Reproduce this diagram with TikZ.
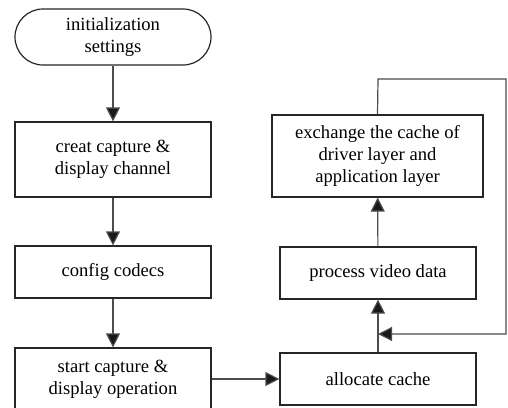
\documentclass[tikz,border=0pt]{standalone}
\usepackage{fontspec}
\setmainfont{Liberation Serif}
\usetikzlibrary{arrows.meta}
\tikzset{
  flowbox/.style={draw=black!85, line width=0.6pt, fill=white, align=center,
    inner sep=0pt, font=\fontsize{9.3}{11}\selectfont},
  flowline/.style={draw=black!70, line width=0.6pt,
    -{Triangle[length=7pt,width=7pt,fill=black!90]}},
  plainline/.style={draw=black!70, line width=0.6pt}
}
\begin{document}
\begin{tikzpicture}[x=0.5pt,y=-0.5pt]
\useasboundingbox (0,0) rectangle (508,407);
\clip (0,0) rectangle (508,407);
% left column
\node[flowbox, rounded corners=14pt, minimum width=98pt, minimum height=28pt] (init) at (113,37) {initialization\\settings};
\node[flowbox, minimum width=98pt, minimum height=37.5pt] (creat) at (113,159.5) {creat capture \&\\display channel};
\node[flowbox, minimum width=98pt, minimum height=26pt] (codecs) at (113,272) {config codecs};
\node[flowbox, minimum width=98pt, minimum height=31pt] (start) at (113,379) {start capture \&\\display operation};
% right column
\node[flowbox, minimum width=98pt, minimum height=26pt] (alloc) at (378,379) {allocate cache};
\node[flowbox, minimum width=98pt, minimum height=26pt] (proc) at (378,273) {process video data};
\node[flowbox, minimum width=105.5pt, minimum height=41pt] (xchg) at (377.5,156) {exchange the cache of\\driver layer and\\application layer};
\coordinate (join) at (alloc.north |- 0,334);
% connectors
\draw[flowline] (init) -- (creat);
\draw[flowline] (creat) -- (codecs);
\draw[flowline] (codecs) -- (start);
\draw[flowline] (start) -- (alloc);
\draw[flowline] (alloc) -- (proc);
\draw[flowline] (proc) -- (xchg);
\draw[flowline] (xchg.north) -- (378,79) -- (506,79) -- (506,334) -- (join);
\end{tikzpicture}
\end{document}
